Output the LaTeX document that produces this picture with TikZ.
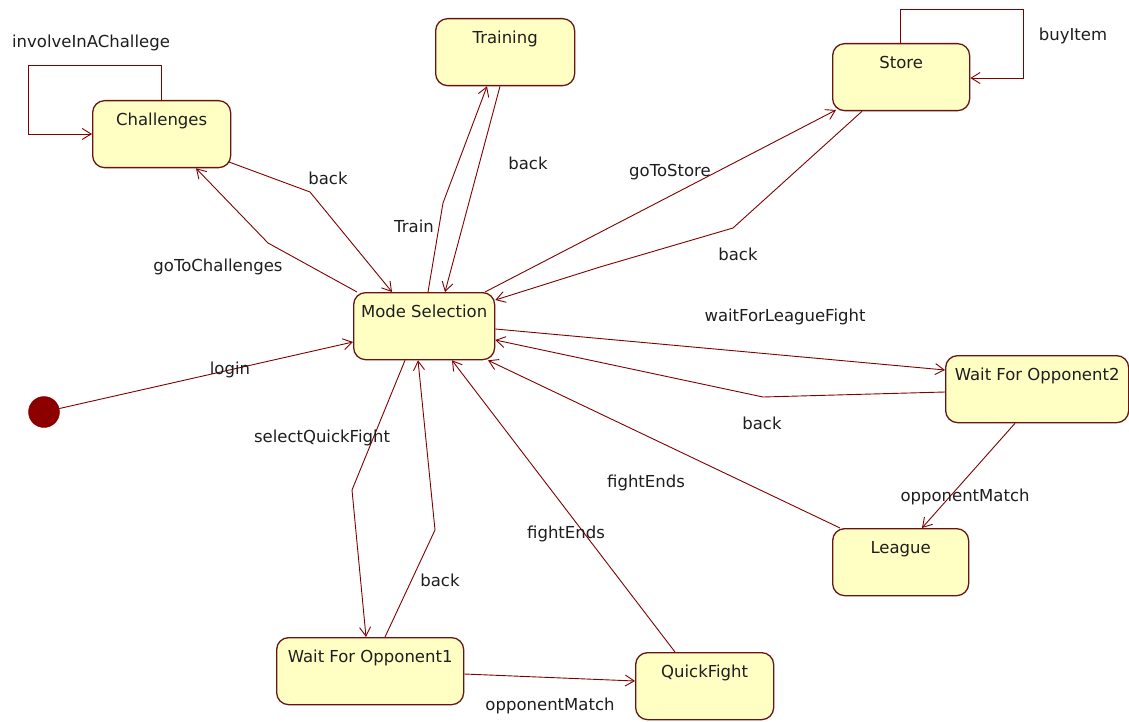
\documentclass[tikz,border=0pt]{standalone}
\usepackage{fontspec}
\setmainfont{DejaVu Sans}
\usetikzlibrary{arrows.meta}
\definecolor{edgered}{RGB}{128,0,0}
\definecolor{boxborder}{RGB}{105,20,20}
\definecolor{boxfill}{RGB}{255,255,196}
\definecolor{labeltext}{RGB}{30,30,30}
\definecolor{initred}{RGB}{140,0,0}

\begin{document}
\begin{tikzpicture}[x=1pt,y=-1pt,
  state/.style={draw=boxborder, line width=1.3pt, fill=boxfill, rounded corners=12pt,
    anchor=north west, inner xsep=0pt, inner ysep=0pt, text height=25pt, text depth=42pt,
    font=\fontsize{16.5}{20}\selectfont, text=labeltext},
  trans/.style={draw=edgered, line width=0.9pt, -{Straight Barb[length=9pt,width=11pt]}},
  tlabel/.style={font=\fontsize{16.5}{20}\selectfont, text=labeltext, inner sep=0pt}
]
\useasboundingbox (0,0) rectangle (1129,722);
\fill[white] (0,0) rectangle (1129,722);

% states
\node[state, minimum width=138pt] (chal)   at (92,100)  {Challenges};
\node[state, minimum width=139pt] (train)  at (435,18)  {Training};
\node[state, minimum width=137pt] (store)  at (832,43)  {Store};
\node[state, minimum width=141pt] (ms)     at (353,292) {Mode Selection};
\node[state, minimum width=183pt] (wfo2)   at (945,355) {Wait For Opponent2};
\node[state, minimum width=136pt] (league) at (832,528) {League};
\node[state, minimum width=187pt] (wfo1)   at (276,637) {Wait For Opponent1};
\node[state, minimum width=138pt] (qf)     at (635,652) {QuickFight};
\node[circle, fill=initred, draw=initred, minimum size=31pt, inner sep=0pt] (init) at (44,412) {};

% transitions
\draw[trans] (init) -- (ms.west |- 0,342);
\draw[trans] (357,0 |- ms.north) -- (268,243) -- (196,0 |- chal.south);
\draw[trans] (229,162) -- (310,192) -- (392,0 |- ms.north);
\draw[trans] (428,0 |- ms.north) -- (443,203) -- (487,0 |- train.south);
\draw[trans] (500,0 |- train.south) -- (445,0 |- ms.north);
\draw[trans] (485,0 |- ms.north) -- (836,110);
\draw[trans] (862,0 |- store.south) -- (733,228) -- (600,267) -- (ms.east |- 0,300);
\draw[trans] (ms.east |- 0,329) -- (wfo2.west |- 0,370);
\draw[trans] (wfo2.west |- 0,392) -- (763,397) -- (ms.east |- 0,340);
\draw[trans] (840,0 |- league.north) -- (488,0 |- ms.south);
\draw[trans] (675,0 |- qf.north) -- (452,0 |- ms.south);
\draw[trans] (405,0 |- ms.south) -- (352,490) -- (366,0 |- wfo1.north);
\draw[trans] (385,0 |- wfo1.north) -- (435,530) -- (418,0 |- ms.south);
\draw[trans] (1015,0 |- wfo2.south) -- (922,0 |- league.north);
\draw[trans] (wfo1.east |- 0,674) -- (qf.west |- 0,681);
% self loops
\draw[trans] (161,0 |- chal.north) -- (161,65) -- (28,65) -- (28,134) -- (chal.west |- 0,134);
\draw[trans] (900,0 |- store.north) -- (900,9) -- (1023,9) -- (1023,78) -- (store.east |- 0,78);

% transition labels
\node[tlabel] (lInvolve)  at (91,43)   {involveInAChallege};
\node[tlabel] (lBuy)      at (1073,36) {buyItem};
\node[tlabel] (lBackChal) at (328,178) {back};
\node[tlabel] (lGoChal)   at (218,267) {goToChallenges};
\node[tlabel] (lTrain)    at (414,226) {Train};
\node[tlabel] (lBackTr)   at (528,163) {back};
\node[tlabel] (lGoStore)  at (670,172) {goToStore};
\node[tlabel] (lBackSt)   at (738,254) {back};
\node[tlabel] (lWait)     at (785,317) {waitForLeagueFight};
\node[tlabel] (lBackW2)   at (762,423) {back};
\node[tlabel] (lFightL)   at (646,483) {fightEnds};
\node[tlabel] (lFightQ)   at (566,534) {fightEnds};
\node[tlabel] (lSelect)   at (322,438) {selectQuickFight};
\node[tlabel] (lBackW1)   at (440,580) {back};
\node[tlabel] (lMatchL)   at (965,497) {opponentMatch};
\node[tlabel] (lMatchQ)   at (550,706) {opponentMatch};
\node[tlabel] (lLogin)    at (230,370) {login};
\end{tikzpicture}
\end{document}
